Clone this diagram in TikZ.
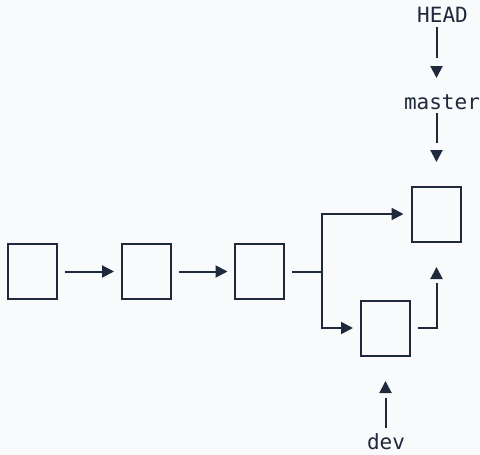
\documentclass[tikz,border=0pt]{standalone}
\usepackage{fontspec}
\setmonofont{DejaVu Sans Mono}
\usetikzlibrary{arrows.meta}
\definecolor{ink}{HTML}{1E293B}
\definecolor{bg}{HTML}{F8FAFC}
\begin{document}
\begin{tikzpicture}[x=1pt,y=-1pt,
  commit/.style={draw=ink, line width=2pt, minimum width=49pt, minimum height=55pt, inner sep=0pt},
  lbl/.style={font=\ttfamily\fontsize{21pt}{21pt}\selectfont, text=ink, anchor=base, inner sep=0pt},
  link/.style={draw=ink, line width=2pt},
  conn/.style={link, -{Triangle[length=12pt,width=12pt]}},
]
\fill[bg] (0,0) rectangle (480,455);
\useasboundingbox (0,0) rectangle (480,455);

\node[commit] (c1) at (32.5,271.5) {};
\node[commit] (c2) at (146.5,271.5) {};
\node[commit] (c3) at (259.5,271.5) {};
\node[commit] (c4) at (436.5,214) {};
\node[commit] (c5) at (385.5,328) {};
\node[lbl] (head) at (442.5,23) {HEAD};
\node[lbl] (master) at (442,109) {master};
\node[lbl] (dev) at (386,449) {dev};
\coordinate (fork) at (322,271.5);

\draw[conn, shorten <=7pt, shorten >=7pt] (c1) -- (c2);
\draw[conn, shorten <=7pt, shorten >=6.5pt] (c2) -- (c3);
\draw[link, shorten <=7pt] (c3) -- (fork);
\draw[conn, shorten >=7.5pt] (fork) |- (c4);
\draw[conn, shorten >=7pt] (fork) |- (c5);
\draw[conn, shorten <=7pt, shorten >=24.5pt, dash pattern=on 63.5pt off 200pt] (c5) -| (c4);

\draw[conn, shorten <=4pt, shorten >=31pt, dash pattern=on 31pt off 200pt] (head.base -| c4) -- (master.base -| c4);
\draw[conn, shorten <=4pt, shorten >=23.5pt, dash pattern=on 30pt off 200pt] (master.base -| c4) -- (c4.north);
\draw[conn, shorten <=21pt, shorten >=24.5pt, dash pattern=on 30pt off 200pt] (dev.base -| c5) -- (c5.south);
\end{tikzpicture}
\end{document}
